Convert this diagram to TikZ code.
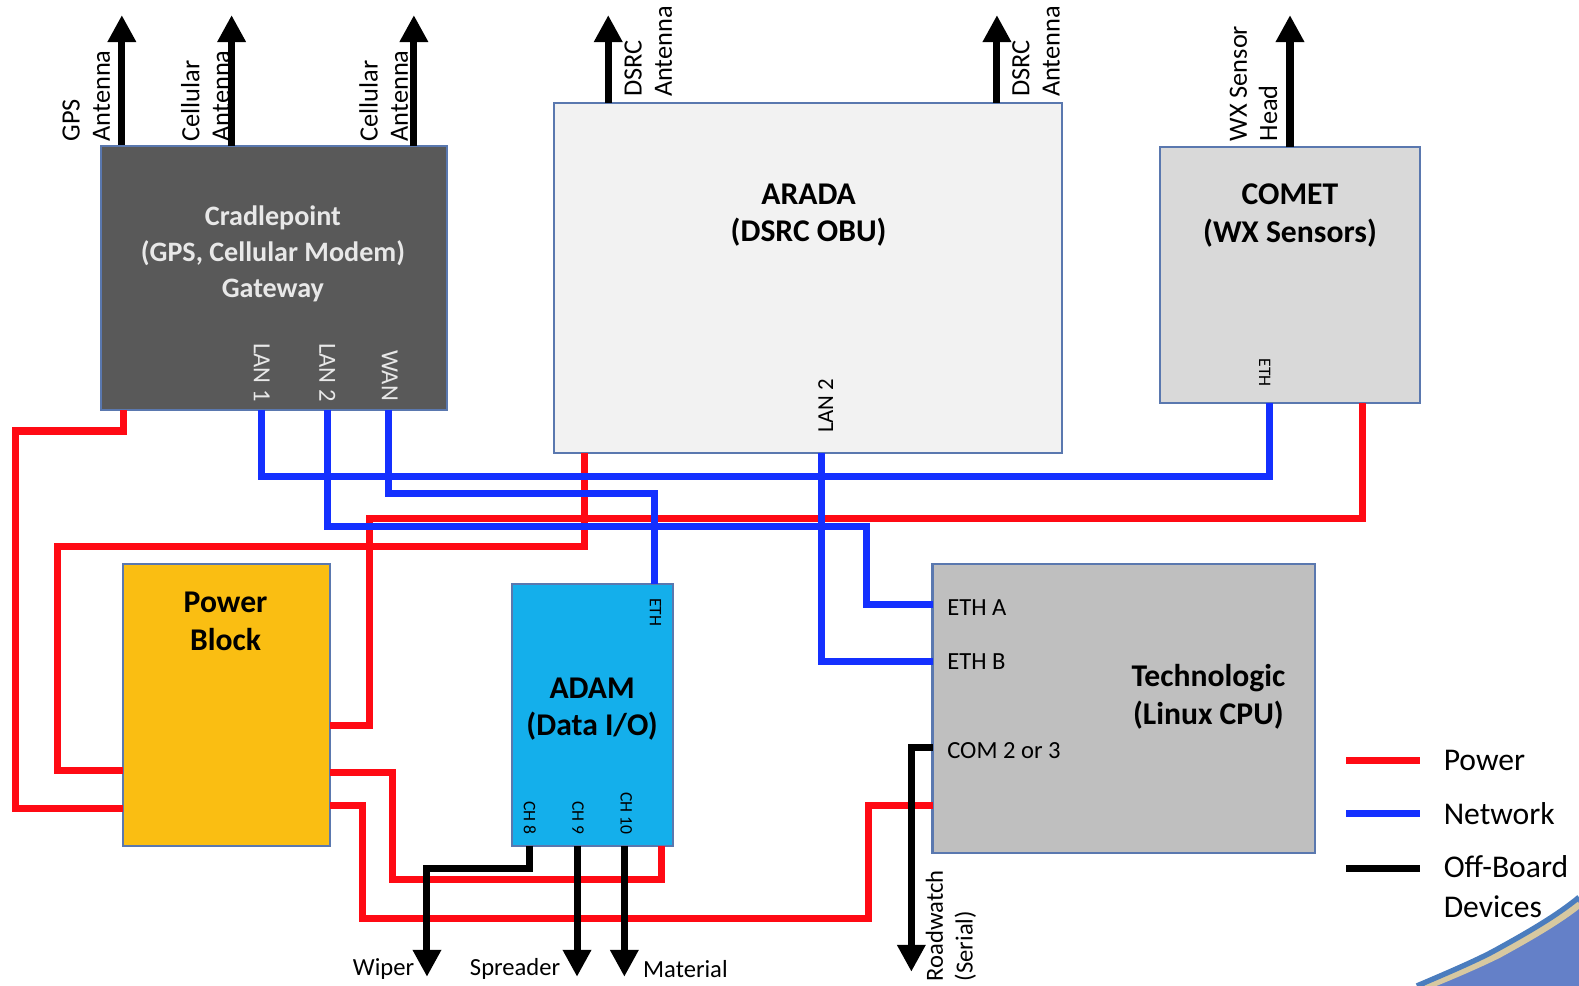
\documentclass[tikz,border=0pt]{standalone}
\usepackage{fontspec}
\setmainfont{Carlito}
\usetikzlibrary{arrows.meta, positioning, fit, calc}
\definecolor{boxedge}{RGB}{90,120,175}
\definecolor{cpgray}{RGB}{89,89,89}
\definecolor{cptext}{RGB}{232,232,232}
\definecolor{aradagray}{RGB}{242,242,242}
\definecolor{cometgray}{RGB}{217,217,217}
\definecolor{techgray}{RGB}{191,191,191}
\definecolor{pwryellow}{RGB}{250,190,18}
\definecolor{adamblue}{RGB}{20,175,235}
\definecolor{wirered}{RGB}{255,10,20}
\definecolor{wireblue}{RGB}{20,48,255}
\definecolor{swooshblue}{RGB}{100,128,200}
\definecolor{swooshedge}{RGB}{75,125,190}
\definecolor{swooshtan}{RGB}{215,200,160}
\tikzset{
  unitbox/.style={draw=boxedge, line width=0.6pt, inner sep=0pt},
  title/.style={font=\fontsize{9}{10.6}\selectfont\bfseries, align=center},
  port/.style={font=\fontsize{7}{8}\selectfont, inner sep=0pt},
  tinyport/.style={font=\fontsize{5}{6}\selectfont, inner sep=0pt},
  antlabel/.style={font=\fontsize{7.5}{8.6}\selectfont, rotate=90, align=left,
    anchor=south west, inner sep=0pt},
  devlabel/.style={font=\fontsize{7}{8}\selectfont, inner sep=0pt},
  legtext/.style={font=\fontsize{9}{11.4}\selectfont, align=left, anchor=west, inner sep=0pt},
  pwr/.style={draw=wirered, line width=2pt},
  net/.style={draw=wireblue, line width=2pt},
  offb/.style={draw=black, line width=2pt},
  ant/.style={draw=black, line width=2pt, -{Triangle[width=0.27cm,length=0.27cm]}},
  tipdown/.style={-{Triangle[width=0.27cm,length=0.27cm]}}
}
\begin{document}
\begin{tikzpicture}[x=0.01007cm, y=-0.01007cm]
  \useasboundingbox (0,0) rectangle (1568,979);

  % Boxes
  \node[unitbox, fill=cpgray, fit={(100,145) (444,407)}] (cradle) {};
  \node[unitbox, fill=aradagray, fit={(550,102) (1055,450)}] (arada) {};
  \node[unitbox, fill=cometgray, fit={(1152,146) (1410,400)}] (comet) {};
  \node[unitbox, fill=pwryellow, fit={(122,560) (328,840)}] (power) {};
  \node[unitbox, fill=adamblue, fit={(508,580) (668,840)}] (adam) {};
  \node[unitbox, fill=techgray, fit={(926,560) (1306,847)}] (techno) {};

  % Box titles
  \node[title, text=cptext, font=\fontsize{8}{10.3}\selectfont\bfseries] (cradleTxt) at (271,252)
    {Cradlepoint\\(GPS, Cellular Modem)\\Gateway};
  \node[title] (aradaTxt) at (803,214) {ARADA\\(DSRC OBU)};
  \node[title] (cometTxt) at (1281,214) {COMET\\(WX Sensors)};
  \node[title] (powerTxt) at (224,617) {Power\\Block};
  \node[title] (adamTxt) at (588,704) {ADAM\\(Data I/O)};
  \node[title] (technoTxt) at (1200,692) {Technologic\\(Linux CPU)};

  % Port labels
  \node[port, text=cptext, rotate=-90] (lan1Txt) at (260,370) {LAN 1};
  \node[port, text=cptext, rotate=-90] (lan2Txt) at (325,370) {LAN 2};
  \node[port, text=cptext, rotate=-90] (wanTxt) at (387,373) {WAN};
  \node[port, font=\fontsize{6.5}{8}\selectfont, rotate=90] (arLanTxt) at (820,403) {LAN 2};
  \node[tinyport, rotate=-90] (coEthTxt) at (1256,370) {ETH};
  \node[tinyport, rotate=-90] (adEthTxt) at (651,608) {ETH};
  \node[tinyport, rotate=-90] (ch8Txt) at (526,812) {CH 8};
  \node[tinyport, rotate=-90] (ch9Txt) at (574,812) {CH 9};
  \node[tinyport, rotate=-90] (ch10Txt) at (622,808) {CH 10};
  \node[port, anchor=west] (ethATxt) at (940,603) {ETH A};
  \node[port, anchor=west] (ethBTxt) at (940,657) {ETH B};
  \node[port, anchor=west] (comTxt) at (940,745) {COM 2 or 3};

  % Port points
  \coordinate (cpPwr) at (123,407);
  \coordinate (cpLan1) at (260,407);
  \coordinate (cpLan2) at (325,407);
  \coordinate (cpWan) at (386,407);
  \coordinate (arPwr) at (580,450);
  \coordinate (arLan) at (816,450);
  \coordinate (coEth) at (1261,400);
  \coordinate (coPwr) at (1353,400);
  \coordinate (pbA) at (122,803);
  \coordinate (pbB) at (122,765);
  \coordinate (pbC) at (328,720);
  \coordinate (pbD) at (328,767);
  \coordinate (pbE) at (328,800);
  \coordinate (adEth) at (650,580);
  \coordinate (adPwr) at (657,840);
  \coordinate (adCh8) at (526,840);
  \coordinate (adCh9) at (573,840);
  \coordinate (adCh10) at (620,840);
  \coordinate (tcEthA) at (926,600);
  \coordinate (tcEthB) at (926,657);
  \coordinate (tcCom) at (926,742);
  \coordinate (tcPwr) at (926,800);

  % Antennas
  \draw[ant] (cradle.north -| 121,0) -- (121,15);
  \draw[ant] (230,145) -- (230,15);
  \draw[ant] (411,145) -- (411,15);
  \draw[ant] (604,102) -- (604,15);
  \draw[ant] (990,102) -- (990,15);
  \draw[ant] (1281,146) -- (1281,15);
  \node[antlabel] (gpsTxt) at (110,141) {GPS\\Antenna};
  \node[antlabel] (cell1Txt) at (229,141) {Cellular\\Antenna};
  \node[antlabel] (cell2Txt) at (406,141) {Cellular\\Antenna};
  \node[antlabel] (dsrc1Txt) at (668,97) {DSRC\\Antenna};
  \node[antlabel] (dsrc2Txt) at (1053,97) {DSRC\\Antenna};
  \node[antlabel] (wxTxt) at (1269,141) {WX Sensor\\Head};

  % Power wires
  \draw[pwr] (cpPwr) |- (15,428) |- (pbA);
  \draw[pwr] (arPwr) |- (57,543) |- (pbB);
  \draw[pwr] (coPwr) |- (367,515) |- (pbC);
  \draw[pwr] (pbD) -| (390,873) -| (adPwr);
  \draw[pwr] (pbE) -| (360,912) -| (862,800) -- (tcPwr);

  % Network wires
  \draw[net] (cpLan1) -- ++(0,66) -| (coEth);
  \draw[net] (cpLan2) |- (860,523) |- (tcEthA);
  \draw[net] (cpWan) -- ++(0,83) -| (adEth);
  \draw[net] (arLan) |- (tcEthB);

  % Off-board devices
  \coordinate (wiperEnd) at (424,970);
  \coordinate (spreaderEnd) at (573,970);
  \coordinate (materialEnd) at (620,970);
  \coordinate (roadEnd) at (905,965);
  \draw[offb, tipdown] (adCh8) -- ++(0,22) -| (wiperEnd);
  \draw[offb, tipdown] (adCh9) -- (spreaderEnd);
  \draw[offb, tipdown] (adCh10) -- (materialEnd);
  \draw[offb, tipdown] (tcCom) -| (roadEnd);
  \node[devlabel, anchor=east] (wiperTxt) at (412,962) {Wiper};
  \node[devlabel, anchor=east] (spreaderTxt) at (557,962) {Spreader};
  \node[devlabel, anchor=west] (materialTxt) at (638,962) {Material};
  \node[antlabel, font=\fontsize{7}{8.5}\selectfont] (roadTxt) at (970,975) {Roadwatch\\(Serial)};

  % Legend
  \draw[pwr] (1337,755) -- (1410,755);
  \draw[net] (1337,808) -- (1410,808);
  \draw[offb] (1337,862) -- (1410,862);
  \node[legtext] (legPwr) at (1433,755) {Power};
  \node[legtext] (legNet) at (1433,808) {Network};
  \node[legtext, anchor=north west] (legOff) at (1433,849) {Off-Board\\Devices};

  % Corner swoosh
  \fill[swooshblue] (1407,979) .. controls (1440,965) and (1470,952) .. (1486,943)
    .. controls (1515,927) and (1545,910) .. (1568,891) -- (1568,979) -- cycle;
  \draw[swooshtan, line width=2.5pt] (1415,979) .. controls (1445,967) and (1472,955) .. (1488,947)
    .. controls (1517,931) and (1547,914) .. (1568,897);
  \draw[swooshedge, line width=1.5pt] (1407,979) .. controls (1440,965) and (1470,952) .. (1486,943)
    .. controls (1515,927) and (1545,910) .. (1568,891);
\end{tikzpicture}
\end{document}
